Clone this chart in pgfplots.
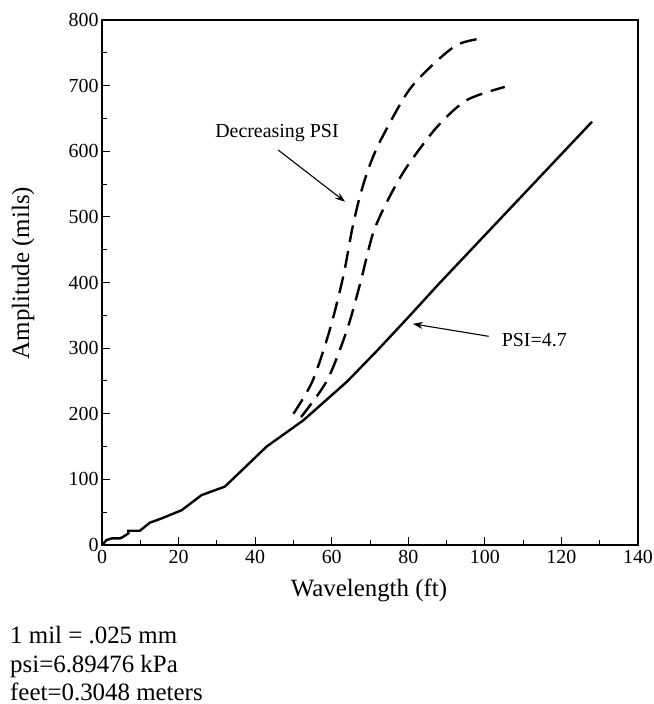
\documentclass[border=0pt]{standalone}
\usepackage{fontspec}
\setmainfont{Liberation Serif}
\usepackage{pgfplots}
\pgfplotsset{compat=1.18}
\usetikzlibrary{arrows.meta}

\begin{document}
\begin{tikzpicture}
\path[use as bounding box] (0,0) rectangle (654bp,-704bp);
\begin{axis}[
  at={(102bp,-545bp)}, anchor=south west,
  scale only axis,
  width=536bp, height=525bp,
  xmin=0, xmax=140, ymin=0, ymax=800,
  xtick={0,20,...,140}, ytick={0,100,...,800},
  minor xtick={10,30,...,130}, minor ytick={50,150,...,750},
  tick align=inside, xtick pos=bottom, ytick pos=left,
  major tick length=8bp, minor tick length=5bp,
  axis line style={line width=1.2bp},
  every tick/.style={black, line width=1bp},
  /pgf/number format/assume math mode=true,
  ticklabel style={font=\fontsize{20}{20}\selectfont},
  xticklabel style={yshift=-2bp},
  xlabel={Wavelength (ft)}, ylabel={Amplitude (mils)},
  label style={font=\fontsize{25}{25}\selectfont},
  xlabel style={at={(axis description cs:0.498,-0.086)}, anchor=center},
  ylabel style={at={(axis description cs:-0.147,0.518)}, anchor=center},
  clip=false,
]
% PSI = 4.7 (solid)
\addplot[black, line width=2.4bp] coordinates {
(0,0) (1.2,7.6) (2.5,10) (4.7,10) (5.6,12.7) (6.9,17.8) (6.9,21.8) (9.9,21.8)
(12.5,34) (15.6,40.6) (20.8,53) (26,76) (32.1,89) (43,150) (52.6,190)
(64,249) (72,297) (80,347) (88,398) (128,645)
};
% decreasing PSI (dashed)
\addplot[black, line width=2.4bp, smooth, dash pattern=on 17bp off 9bp] coordinates {
(50,200) (55,250) (59.5,328) (63,409) (65.3,480) (67.3,530) (69.7,575)
(72.8,617) (79.7,689) (85.7,728) (92.7,762) (99.2,772)
};
\addplot[black, line width=2.4bp, smooth, dash pattern=on 17bp off 9bp] coordinates {
(52,195) (58.8,251) (64,328) (67.5,400) (70.8,475) (74.7,526)
(79.6,576) (87.5,637) (95.3,678) (105.2,698)
};
\node[font=\fontsize{20}{20}\selectfont] at (axis cs:45.7,628) {Decreasing PSI};
\draw[-{Stealth[length=10bp,width=7bp]}, line width=1.1bp] (axis cs:46,602) -- (axis cs:63.5,523);
\node[font=\fontsize{20}{20}\selectfont, anchor=west] at (axis cs:103.5,312) {PSI=4.7};
\draw[-{Stealth[length=10bp,width=7bp]}, line width=1.1bp] (axis cs:101,318) -- (axis cs:81.2,337);
\end{axis}
\begin{scope}[every node/.style={anchor=base west, inner sep=0pt, font=\fontsize{25}{25}\selectfont}]
\node at (10bp,-643bp) {1 mil = .025 mm};
\node at (10bp,-672bp) {psi=6.89476 kPa};
\node at (10bp,-700bp) {feet=0.3048 meters};
\end{scope}
\end{tikzpicture}
\end{document}
